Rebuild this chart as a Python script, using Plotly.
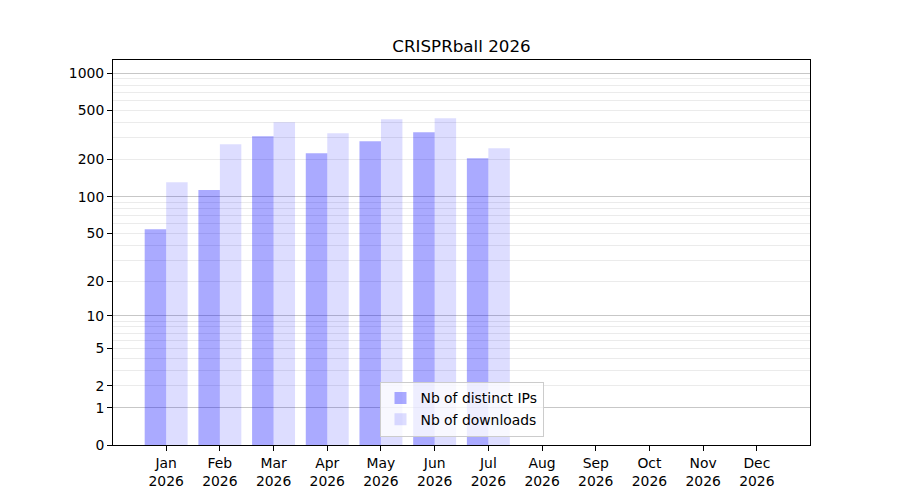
import plotly.graph_objects as go

months = ["Jan", "Feb", "Mar", "Apr", "May", "Jun", "Jul", "Aug", "Sep", "Oct", "Nov", "Dec"]
year = "2026"
distinct_ips = [54, 113, 309, 225, 282, 333, 205, 0, 0, 0, 0, 0]
downloads = [131, 266, 401, 327, 425, 433, 247, 0, 0, 0, 0, 0]
y_tick_labels = [0, 1, 2, 5, 10, 20, 50, 100, 200, 500, 1000]
major_grid = [1, 10, 100, 1000]
minor_grid = [m * d for d in (1, 10, 100) for m in range(2, 10)]

cats = [f"{m}<br>{year}" for m in months]
shift = lambda vals: [v + 1 for v in vals]  # log(1+x) scale

fig = go.Figure()
fig.add_trace(go.Bar(x=cats, y=shift(distinct_ips), name="Nb of distinct IPs",
                     marker=dict(color="rgba(0,0,255,0.333)", line=dict(width=0))))
fig.add_trace(go.Bar(x=cats, y=shift(downloads), name="Nb of downloads",
                     marker=dict(color="rgba(0,0,255,0.135)", line=dict(width=0))))
# invisible trace to activate overlay axis for major grid
fig.add_trace(go.Scatter(x=[cats[0]], y=[1], yaxis="y2", mode="markers",
                         marker=dict(opacity=0), showlegend=False, hoverinfo="skip"))

yr = [0, 3.107]
fig.update_layout(
    width=892, height=492,
    paper_bgcolor="white", plot_bgcolor="white",
    font=dict(family="DejaVu Sans", size=13.9, color="black"),
    title=dict(text="CRISPRball 2026", xref="paper", x=0.5, xanchor="center",
               y=0.9228, yanchor="middle", font=dict(size=16.7)),
    margin=dict(l=105, r=90, t=52, b=55),
    barmode="group", bargap=0.2, bargroupgap=0,
    xaxis=dict(type="category", range=[-0.99, 11.99], showline=True, linecolor="black",
               linewidth=1, mirror=True, ticks="outside", ticklen=5, tickcolor="black",
               showgrid=False, zeroline=False),
    yaxis=dict(type="log", range=yr, tickmode="array",
               tickvals=shift(y_tick_labels), ticktext=[str(t) for t in y_tick_labels],
               showline=True, linecolor="black", linewidth=1, mirror=True,
               ticks="outside", ticklen=5, tickcolor="black", showgrid=False, zeroline=False,
               minor=dict(tickmode="array", tickvals=shift(minor_grid), showgrid=True,
                          gridcolor="rgba(0,0,0,0.08)", gridwidth=1, ticks="")),
    yaxis2=dict(type="log", range=yr, overlaying="y", tickmode="array",
                tickvals=shift(major_grid), showticklabels=False, showgrid=True,
                gridcolor="rgba(0,0,0,0.22)", gridwidth=1, zeroline=False, showline=False),
    legend=dict(x=0.5, xanchor="center", y=0.022, yanchor="bottom",
                bgcolor="rgba(255,255,255,0.8)", bordercolor="#cccccc", borderwidth=1,
                font=dict(size=13.9), tracegroupgap=0),
    showlegend=True,
)
fig.write_html("out.html")
